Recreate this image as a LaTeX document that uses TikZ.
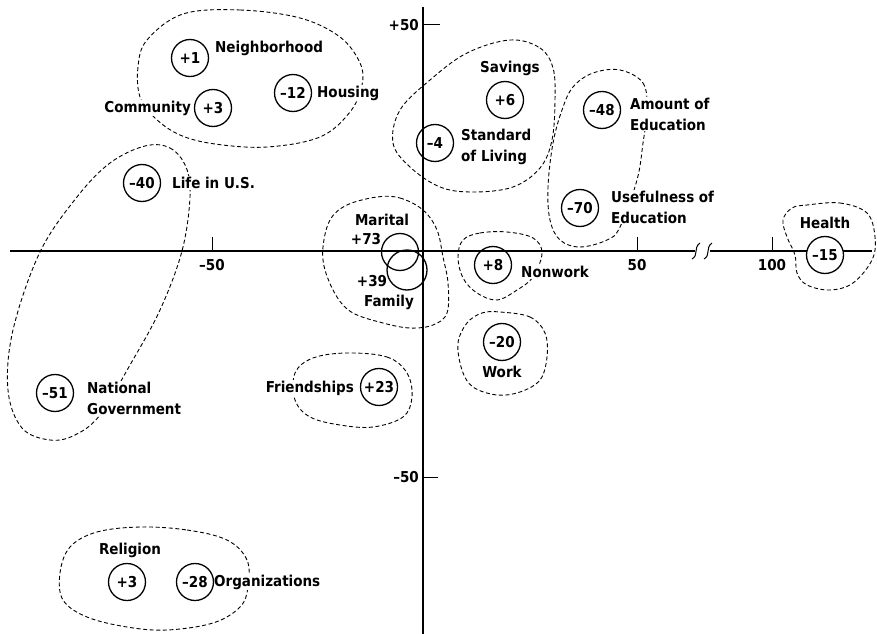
\documentclass[tikz,border=0pt]{standalone}
\usepackage{fontspec}
\newfontfamily\lblfont{DejaVu Sans Condensed}
\begin{document}
\begin{tikzpicture}[x=1bp,y=-1bp,
  every node/.style={font=\lblfont\bfseries\fontsize{15bp}{21bp}\selectfont},
  val/.style={draw, circle, line width=1.3bp, minimum size=37bp, inner sep=0pt},
  lbl/.style={fill=white, inner sep=1bp, align=left},
  zone/.style={dash pattern=on 4bp off 2.6bp, line width=0.9bp},
  axis/.style={line width=1.4bp},
  tick/.style={line width=1bp}]
\useasboundingbox (0,0) rectangle (877,634);

% axes with the break on the horizontal axis
\draw[axis] (10,251) -- (695,251);
\draw[axis] (710,251) -- (872,251);
\draw[axis] (423,7) -- (423,634);
\draw[tick] (692,259) .. controls (699,255) and (693,248) .. (700,243);
\draw[tick] (704,259) .. controls (711,255) and (705,248) .. (712,243);

% ticks
\draw[tick] (423,25) -- (440,25);
\draw[tick] (423,477) -- (438,477);
\draw[tick] (212,251) -- (212,237);
\draw[tick] (637,251) -- (637,237);
\draw[tick] (772,251) -- (772,237);
\node[anchor=east, inner sep=1bp] (yp50) at (420,25) {+50};
\node[anchor=east, inner sep=1bp] (ym50) at (420,477) {–50};
\node (xm50) at (212,265) {–50};
\node (xp50) at (637,265) {50};
\node (xp100) at (772,265) {100};

% dashed zones
\draw[zone] plot[smooth cycle, tension=0.6] coordinates {(183,14) (240,10) (300,18) (340,37) (360,63) (362,85) (350,112) (320,137) (267,147) (215,144) (180,135) (155,118) (140,97) (138,67) (147,40)};
\draw[zone] plot[smooth cycle, tension=0.6] coordinates {(510,40) (540,48) (553,68) (555,100) (552,140) (540,168) (513,187) (473,192) (440,187) (410,167) (393,143) (400,110) (430,80) (467,53)};
\draw[zone] plot[smooth cycle, tension=0.6] coordinates {(620,70) (643,83) (647,110) (643,143) (637,180) (620,227) (607,240) (580,247) (560,240) (550,220) (548,187) (553,143) (562,110) (573,87) (593,73)};
\draw[zone] plot[smooth cycle, tension=0.6] coordinates {(145,146) (170,148) (186,167) (190,197) (182,251) (160,310) (130,365) (100,415) (75,435) (50,440) (22,428) (8,390) (13,330) (40,252) (77,197) (110,163)};
\draw[zone] plot[smooth cycle, tension=0.6] coordinates {(377,197) (400,198) (423,210) (437,230) (443,257) (448,283) (447,313) (433,325) (410,328) (383,323) (353,313) (337,297) (325,270) (323,247) (330,220) (347,205)};
\draw[zone] plot[smooth cycle, tension=0.6] coordinates {(463,240) (480,233) (507,232) (533,238) (542,253) (533,277) (517,290) (497,300) (477,293) (463,278) (458,257)};
\draw[zone] plot[smooth cycle, tension=0.6] coordinates {(500,312) (530,317) (545,333) (547,357) (540,380) (520,392) (497,395) (473,387) (462,370) (458,343) (467,323) (482,313)};
\draw[zone] plot[smooth cycle, tension=0.6] coordinates {(347,353) (387,357) (407,373) (412,397) (403,417) (373,427) (340,425) (310,417) (295,400) (295,373) (313,358)};
\draw[zone] plot[smooth cycle, tension=0.6] coordinates {(140,527) (187,530) (227,540) (247,560) (248,587) (240,607) (213,623) (167,630) (127,627) (87,617) (63,600) (60,573) (70,547) (97,532)};
\draw[zone] plot[smooth cycle, tension=0.6] coordinates {(807,205) (840,203) (867,213) (875,237) (872,260) (853,283) (830,290) (807,285) (797,273) (795,255) (787,237) (783,220) (792,208)};

% labels
\node[lbl, anchor=west] (tneigh) at (214,48) {Neighborhood};
\node[lbl, anchor=west] (thous) at (316,93) {Housing};
\node[lbl, anchor=east] (tcomm) at (192,108) {Community};
\node[lbl] (tsav) at (510,68) {Savings};
\node[lbl, anchor=west] (tstd) at (460,147) {Standard\\of Living};
\node[lbl, anchor=west] (tamt) at (629,114) {Amount of\\Education};
\node[lbl, anchor=west] (tuse) at (610,207) {Usefulness of\\Education};
\node[lbl, anchor=west] (tlife) at (171,183) {Life in U.S.};
\node[lbl, anchor=west] (tnat) at (86,398) {National\\Government};
\node[lbl] (tmar) at (382,220) {Marital};
\node[lbl] (t73) at (366,239) {+73};
\node[lbl] (t39) at (372,281) {+39};
\node[lbl] (tfam) at (389,302) {Family};
\node[lbl, anchor=west] (tnon) at (520,272) {Nonwork};
\node[lbl] (twork) at (502,372) {Work};
\node[lbl, anchor=east] (tfriend) at (355,388) {Friendships};
\node[lbl] (trel) at (130,550) {Religion};
\node[lbl, anchor=west] (torg) at (213,582) {Organizations};
\node[lbl] (thealth) at (825,223) {Health};

% value circles
\node[val] (cneigh) at (190,58) {+1};
\node[val] (ccomm) at (213,108) {+3};
\node[val] (chous) at (293,93) {–12};
\node[val] (csav) at (505,100) {+6};
\node[val] (cstd) at (435,143) {–4};
\node[val] (camt) at (602,110) {–48};
\node[val] (cuse) at (580,208) {–70};
\node[val] (clife) at (142,183) {–40};
\node[val] (cnat) at (55,393) {–51};
\node[val] (cmar) at (400,252) {};
\node[val, minimum size=40bp] (cfam) at (407,270) {};
\node[val] (cnon) at (493,265) {+8};
\node[val] (cwork) at (502,342) {–20};
\node[val] (cfriend) at (379,387) {+23};
\node[val] (crel) at (127,582) {+3};
\node[val] (corg) at (195,582) {–28};
\node[val, fill=white] (chealth) at (825,255) {–15};
\end{tikzpicture}
\end{document}
